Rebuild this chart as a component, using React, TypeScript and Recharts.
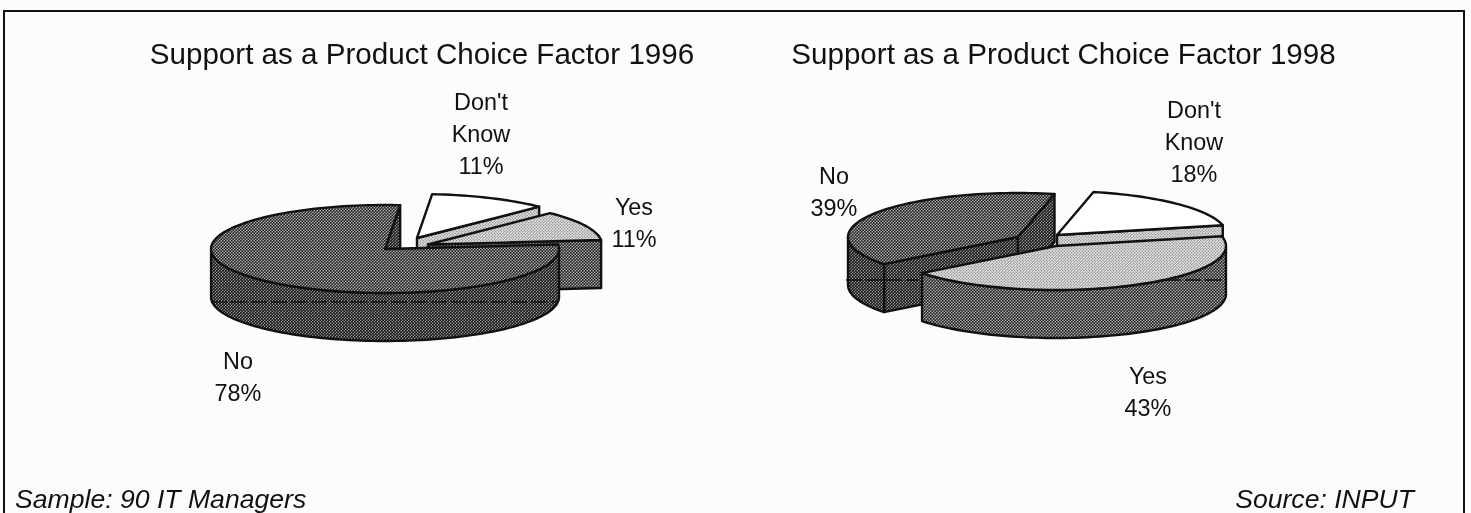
import { Pie, PieChart } from "recharts";

const names1996 = ["Don't Know", "Yes", "No"];
const values1996 = [11, 11, 78];
const names1998 = ["No", "Don't Know", "Yes"];
const values1998 = [39, 18, 43];

const data1996 = names1996.map((name, i) => ({ name, value: values1996[i] }));
const data1998 = names1998.map((name, i) => ({ name, value: values1998[i] }));

const FONT = "'Liberation Sans', Arial, sans-serif";
const RY = 44;
const DEPTH = 48;

// how far each slice is pulled out of the pie, its fills, and the dark seam printed across the walls
const look: Record<string, any> = {
  "96-Don't Know": { dx: 32, dy: -11, top: "#ffffff", wall: "url(#light)" },
  "96-Yes": { dx: 43, dy: -4.5, top: "url(#light)", wall: "url(#mid)" },
  "96-No": { dx: 0, dy: 0, top: "url(#mid)", wall: "url(#dark)", seams: [[211, 559, 302]] },
  "98-No": { dx: -22, dy: -3, top: "url(#mid)", wall: "url(#dark)", seams: [[846, 919, 280]] },
  "98-Don't Know": { dx: 17, dy: -5, top: "#ffffff", wall: "url(#light)" },
  "98-Yes": { dx: 16, dy: 6, top: "url(#light)", wall: "url(#mid)", seams: [[1165, 1226, 280]] },
};

const labelSpot: Record<string, [number, number]> = {
  "96-Don't Know": [481, 110],
  "96-Yes": [634, 215],
  "96-No": [238, 369],
  "98-No": [834, 184],
  "98-Don't Know": [1194, 118],
  "98-Yes": [1148, 384],
};

const rad = (a: number) => (a * Math.PI) / 180;

function makeSlice(year: string) {
  return function Slice(props: any) {
    const { cx, cy, outerRadius: rx, startAngle, endAngle, name } = props;
    const s = look[`${year}-${name}`];
    const x0 = cx + s.dx;
    const y0 = cy + s.dy;
    const at = (a: number, drop = 0): [number, number] => [
      x0 + rx * Math.cos(rad(a)),
      y0 - RY * Math.sin(rad(a)) + drop,
    ];
    const poly = (pts: [number, number][]) => "M" + pts.map((p) => p.join(",")).join("L") + "Z";

    const arc: number[] = [];
    for (let a = startAngle; a > endAngle; a -= 2) arc.push(a);
    arc.push(endAngle);

    const front = arc.filter((a) => Math.sin(rad(a)) < 0);
    const edge = { stroke: "#111", strokeWidth: 2.4, strokeLinejoin: "round" as const };
    const apex: [number, number] = [x0, y0];
    const apexLow: [number, number] = [x0, y0 + DEPTH];

    const cut = (a: number) => poly([apex, at(a), at(a, DEPTH), apexLow]);
    const showStart = Math.sin(rad(startAngle + 90)) < 0;
    const showEnd = Math.sin(rad(endAngle - 90)) < 0;

    return (
      <g>
        {showStart && <path d={cut(startAngle)} fill={s.wall} {...edge} />}
        {showEnd && <path d={cut(endAngle)} fill={s.wall} {...edge} />}
        {front.length > 1 && (
          <path
            d={poly([
              ...front.map((a) => at(a)),
              ...[...front].reverse().map((a) => at(a, DEPTH)),
            ])}
            fill={s.wall}
            {...edge}
          />
        )}
        <path d={poly([apex, ...arc.map((a) => at(a))])} fill={s.top} {...edge} />
        {(s.seams || []).map((m: number[]) => (
          <line
            key={m[0]}
            x1={m[0]}
            x2={m[1]}
            y1={m[2]}
            y2={m[2]}
            stroke="#111"
            strokeWidth={1.5}
            strokeDasharray="16 4"
          />
        ))}
      </g>
    );
  };
}

function makeLabel(year: string) {
  return function SliceLabel(props: any) {
    const { name, value } = props;
    const [x, y] = labelSpot[`${year}-${name}`];
    const lines = [...String(name).split(" "), `${value}%`];
    return (
      <text x={x} y={y} textAnchor="middle" fontFamily={FONT} fontSize={23.4} fill="#111">
        {lines.map((t, i) => (
          <tspan key={t} x={x} dy={i === 0 ? 0 : 32}>
            {t}
          </tspan>
        ))}
      </text>
    );
  };
}

function Dots({ id, paper, ink, r }: { id: string; paper: string; ink: string; r: number }) {
  return (
    <pattern id={id} width={3} height={3} patternUnits="userSpaceOnUse">
      <rect width={3} height={3} fill={paper} />
      <circle cx={0.75} cy={0.75} r={r} fill={ink} />
      <circle cx={2.25} cy={2.25} r={r} fill={ink} />
    </pattern>
  );
}

export default function App() {
  return (
    <div
      style={{
        position: "absolute",
        left: 0,
        top: 0,
        width: 1471,
        height: 513,
        overflow: "hidden",
        background: "#fdfcfb",
      }}
    >
      <div style={{ filter: "blur(0.4px)" }}>
        <PieChart width={1471} height={513} margin={{ top: 0, right: 0, bottom: 0, left: 0 }}>
          <defs>
            <Dots id="light" paper="#e2e2e2" ink="#808080" r={0.7} />
            <Dots id="mid" paper="#b0b0b0" ink="#222" r={0.95} />
            <Dots id="dark" paper="#999" ink="#111" r={1.05} />
          </defs>
          <rect x={4} y={11} width={1460} height={520} fill="none" stroke="#111" strokeWidth={2} />
          <text x={422} y={64} textAnchor="middle" fontFamily={FONT} fontSize={29.6} fill="#111">
            Support as a Product Choice Factor 1996
          </text>
          <text x={1063.5} y={64} textAnchor="middle" fontFamily={FONT} fontSize={29.6} fill="#111">
            Support as a Product Choice Factor 1998
          </text>
          <Pie
            data={data1996}
            dataKey="value"
            nameKey="name"
            cx={385}
            cy={249}
            outerRadius={174}
            startAngle={85}
            endAngle={-275}
            shape={makeSlice("96")}
            label={makeLabel("96")}
            labelLine={false}
            stroke="none"
            isAnimationActive={false}
          />
          <Pie
            data={data1998}
            dataKey="value"
            nameKey="name"
            cx={1040}
            cy={240}
            outerRadius={170}
            startAngle={-142}
            endAngle={-502}
            shape={makeSlice("98")}
            label={makeLabel("98")}
            labelLine={false}
            stroke="none"
            isAnimationActive={false}
          />
          <text x={15} y={508} fontFamily={FONT} fontStyle="italic" fontSize={26.6} fill="#111">
            Sample: 90 IT Managers
          </text>
          <text x={1414} y={508} textAnchor="end" fontFamily={FONT} fontStyle="italic" fontSize={26.6} fill="#111">
            Source: INPUT
          </text>
        </PieChart>
      </div>
    </div>
  );
}
